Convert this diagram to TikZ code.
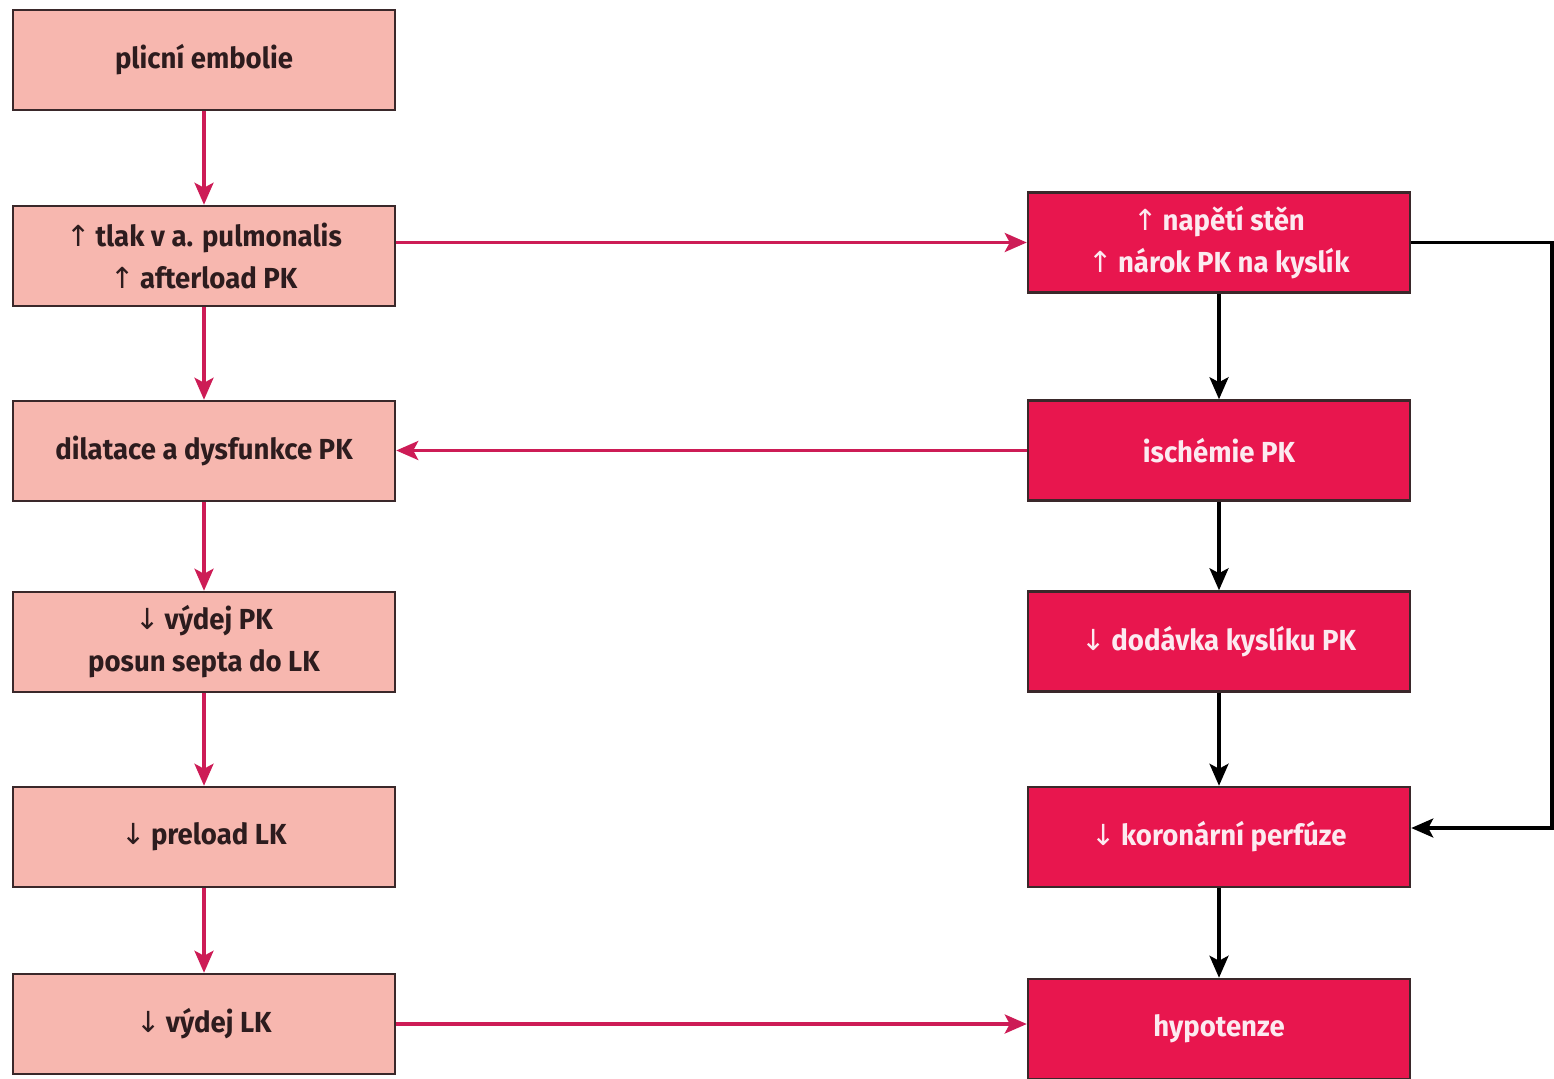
\documentclass[tikz,border=0pt]{standalone}
\usepackage{fontspec}
\setmainfont{Fira Sans}[FakeStretch=0.95]
\newfontfamily\arrfont{DejaVu Sans}
\usetikzlibrary{arrows.meta}
\definecolor{lightbox}{RGB}{247,183,175}
\definecolor{darkbox}{RGB}{232,22,78}
\definecolor{boxline}{RGB}{58,40,42}
\definecolor{pinkline}{RGB}{205,28,86}
\definecolor{lighttext}{RGB}{45,28,30}
\definecolor{whitetext}{RGB}{252,234,240}
\newcommand\myup{{\arrfont\mdseries ↑}\hspace{0.18em}}
\newcommand\mydown{{\arrfont\mdseries ↓}\hspace{0.18em}}
\tikzset{
  basebox/.style={draw=boxline, line width=2.5pt, minimum width=382pt, minimum height=100pt,
    align=center, inner sep=2pt, font=\bfseries\fontsize{29}{42}\selectfont},
  leftbox/.style={basebox, fill=lightbox, text=lighttext},
  rightbox/.style={basebox, fill=darkbox, text=whitetext},
  parrow/.style={draw=pinkline, line width=3.2pt, -{Stealth[length=22pt,width=19pt,inset=5pt]}},
  barrow/.style={draw=black, line width=3.2pt, -{Stealth[length=22pt,width=19pt,inset=5pt]}},
}
\begin{document}
\begin{tikzpicture}[x=1pt,y=-1pt]
\useasboundingbox[fill=white] (0,0) rectangle (1554,1078);
% left column
\node[leftbox] (L1) at (204,60) {plicní embolie};
\node[leftbox] (L2) at (204,256) {\myup tlak v a. pulmonalis\\\myup afterload PK};
\node[leftbox] (L3) at (204,451) {dilatace a dysfunkce PK};
\node[leftbox] (L4) at (204,642) {\mydown výdej PK\\posun septa do LK};
\node[leftbox] (L5) at (204,837) {\mydown preload LK};
\node[leftbox] (L6) at (204,1024) {\mydown výdej LK};
% right column
\node[rightbox] (R1) at (1219,242.5) {\myup napětí stěn\\\myup nárok PK na kyslík};
\node[rightbox] (R2) at (1219,450.5) {ischémie PK};
\node[rightbox] (R3) at (1219,641.5) {\mydown dodávka kyslíku PK};
\node[rightbox] (R4) at (1219,837) {\mydown koronární perfúze};
\node[rightbox] (R5) at (1219,1029) {hypotenze};
% left arrows
\draw[parrow] (L1.south) -- (L2.north);
\draw[parrow] (L2.south) -- (L3.north);
\draw[parrow] (L3.south) -- (L4.north);
\draw[parrow] (L4.south) -- (L5.north);
\draw[parrow] (L5.south) -- (L6.north);
% right arrows
\draw[barrow] (R1.south) -- (R2.north);
\draw[barrow] (R2.south) -- (R3.north);
\draw[barrow] (R3.south) -- (R4.north);
\draw[barrow] (R4.south) -- (R5.north);
% cross arrows
\draw[parrow] (L2.east |- R1.west) -- (R1.west);
\draw[parrow] (R2.west) -- (R2.west -| L3.east);
\draw[parrow] (L6.east) -- (L6.east -| R5.west);
% feedback
\coordinate (fb) at (1552,0);
\coordinate (fbin) at ([yshift=9pt]R4.east);
\draw[barrow] (R1.east) -- (R1.east -| fb) -- (fbin -| fb) -- (fbin);
\end{tikzpicture}
\end{document}
